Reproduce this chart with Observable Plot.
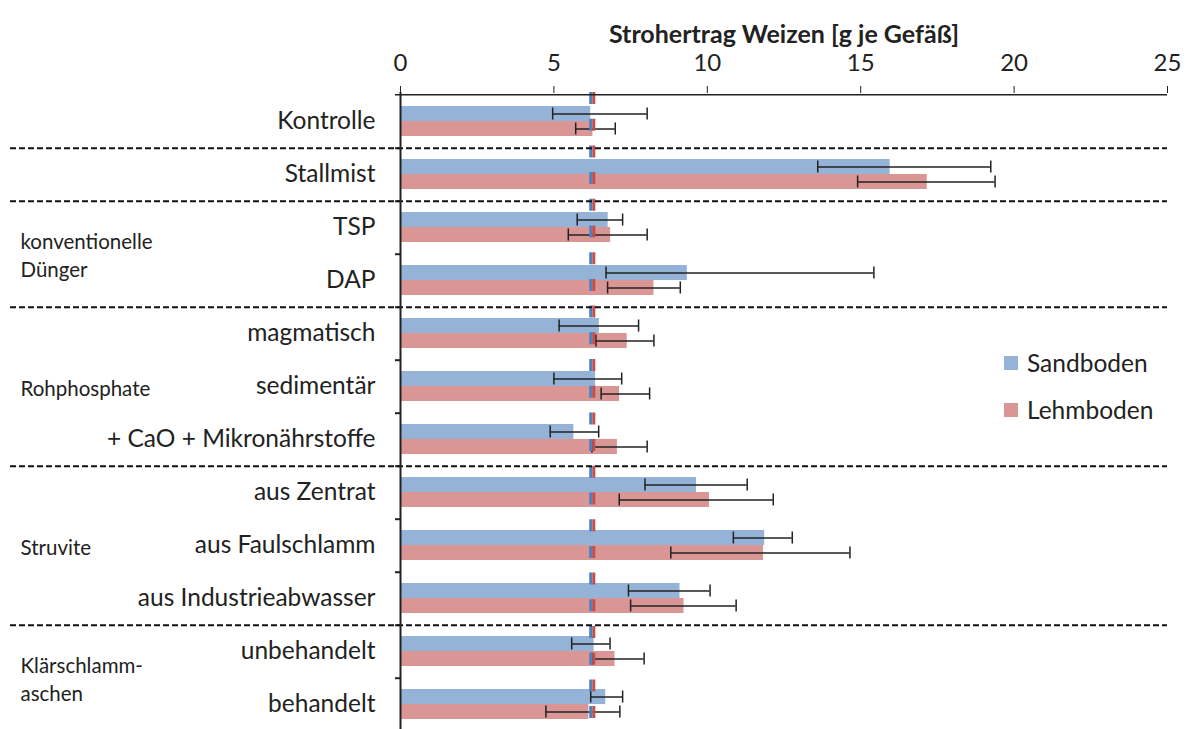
<!DOCTYPE html>
<html>
<head>
<meta charset="utf-8">
<script src="https://cdn.jsdelivr.net/npm/d3@7"></script>
<script src="https://cdn.jsdelivr.net/npm/@observablehq/plot@0.6"></script>
<style>
  html, body { margin: 0; padding: 0; background: #fff; overflow: hidden; }
  #wrap { position: relative; width: 1193px; height: 729px; }
  #legend { position: absolute; left: 1004px; top: 339px; font-family: Lato, "Open Sans", sans-serif; font-size: 24.5px; color: #222; }
  #legend div { display: flex; align-items: center; height: 47px; }
  #legend span.sw { display: inline-block; width: 14px; height: 14px; margin-right: 9px; }
</style>
</head>
<body>
<div id="wrap"></div>
<script>
const categories = ["Kontrolle","Stallmist","TSP","DAP","magmatisch","sedimentär","+ CaO + Mikronährstoffe","aus Zentrat","aus Faulschlamm","aus Industrieabwasser","unbehandelt","behandelt"];
const series = ["Sandboden","Lehmboden"];
const sand   = [6.2, 15.96, 6.77, 9.35, 6.48, 6.36, 5.65, 9.65, 11.87, 9.11, 6.31, 6.69];
const sandLo = [4.96, 13.6, 5.76, 6.70, 5.17, 5.0, 4.88, 7.97, 10.85, 7.43, 5.58, 6.2];
const sandHi = [8.04, 19.24, 7.24, 15.43, 7.76, 7.21, 6.46, 11.3, 12.77, 10.09, 6.83, 7.24];
const lehm   = [6.27, 17.17, 6.85, 8.26, 7.39, 7.14, 7.07, 10.07, 11.83, 9.24, 6.99, 6.14];
const lehmLo = [5.71, 14.9, 5.47, 6.75, 6.37, 6.54, 6.24, 7.13, 8.81, 7.5, 6.24, 4.74];
const lehmHi = [7.0, 19.38, 8.04, 9.12, 8.26, 8.12, 8.04, 12.15, 14.65, 10.94, 7.94, 7.15];
const controlSand = 6.2;
const controlLehm = 6.3;
const xTicks = [0, 5, 10, 15, 20, 25];
const separatorsAfter = ["Kontrolle","Stallmist","DAP","+ CaO + Mikronährstoffe","aus Industrieabwasser"];
const groupLabels = ["konventionelle\nDünger","Rohphosphate","Struvite","Klärschlamm-\naschen"];
const groupMembers = [["TSP","DAP"],["magmatisch","sedimentär","+ CaO + Mikronährstoffe"],["aus Zentrat","aus Faulschlamm","aus Industrieabwasser"],["unbehandelt","behandelt"]];
const xLabel = "Strohertrag Weizen [g je Gefäß]";

const colors = {Sandboden: "#95b3d7", Lehmboden: "#d99694"};
const lineColors = {Sandboden: "#4f81bd", Lehmboden: "#c0504d"};

const W = 1193, H = 740, mT = 92, mB = 7, mL = 400, mR = 26;
const step = (H - mT - mB) / categories.length;
const padIn = 0.44;
const bw = step * (1 - padIn);
const half = bw / 2;
const capInset = 1.5;

const rowsS = categories.map((c, i) => ({cat: c, v: sand[i], lo: sandLo[i], hi: sandHi[i]}));
const rowsL = categories.map((c, i) => ({cat: c, v: lehm[i], lo: lehmLo[i], hi: lehmHi[i]}));

const groups = groupLabels.map((g, i) => {
  const m = groupMembers[i];
  const k = Math.floor((m.length - 1) / 2);
  return {label: g, cat: m[k], even: m.length % 2 === 0};
});

const font = "Lato, 'Open Sans', sans-serif";
const groupText = (data, dy) => Plot.text(data, {y: "cat", text: "label", dy, frameAnchor: "left", dx: -(mL - 20), textAnchor: "start", fontSize: 20.5, lineHeight: 1.37, fill: "#222"});

const chart = Plot.plot({
  width: W, height: H,
  marginTop: mT, marginBottom: mB, marginLeft: mL, marginRight: mR,
  style: {fontFamily: font, fontSize: "24px", color: "#222", background: "white", overflow: "visible"},
  x: {domain: [0, 25], axis: null},
  y: {domain: categories, paddingInner: padIn, paddingOuter: padIn / 2, axis: null},
  marks: [
    Plot.axisX({anchor: "top", ticks: xTicks, tickSize: 7, tickPadding: 15, fontSize: 24, label: null, stroke: "#222"}),
    Plot.axisY({anchor: "left", tickSize: 0, tickPadding: 25, fontSize: 24.5, label: null}),
    Plot.axisY({anchor: "left", tickSize: 5, tickFormat: () => "", label: null, dy: step / 2, strokeWidth: 2}),
    Plot.barX(rowsS, {x: "v", y: "cat", fill: colors.Sandboden, insetBottom: half}),
    Plot.barX(rowsL, {x: "v", y: "cat", fill: colors.Lehmboden, insetTop: half}),
    Plot.ruleY(rowsS, {y: "cat", x1: "lo", x2: "hi", dy: -half / 2, stroke: "#222", strokeWidth: 1.5}),
    Plot.ruleY(rowsL, {y: "cat", x1: "lo", x2: "hi", dy: half / 2, stroke: "#222", strokeWidth: 1.5}),
    Plot.tickX(rowsS, {y: "cat", x: "lo", insetTop: capInset, insetBottom: half + capInset, stroke: "#222", strokeWidth: 1.5}),
    Plot.tickX(rowsS, {y: "cat", x: "hi", insetTop: capInset, insetBottom: half + capInset, stroke: "#222", strokeWidth: 1.5}),
    Plot.tickX(rowsL, {y: "cat", x: "lo", insetTop: half + capInset, insetBottom: capInset, stroke: "#222", strokeWidth: 1.5}),
    Plot.tickX(rowsL, {y: "cat", x: "hi", insetTop: half + capInset, insetBottom: capInset, stroke: "#222", strokeWidth: 1.5}),
    Plot.ruleX([controlSand], {stroke: lineColors.Sandboden, strokeWidth: 3, strokeDasharray: "12,14.7"}),
    Plot.ruleX([controlLehm], {stroke: lineColors.Lehmboden, strokeWidth: 3, strokeDasharray: "12,14.7"}),
    Plot.ruleY(separatorsAfter, {y: d => d, dy: step / 2, insetLeft: -(mL - 10), stroke: "#111", strokeWidth: 2, strokeDasharray: "6,3"}),
    Plot.ruleY([categories[0]], {y: d => d, dy: -step / 2, stroke: "#222", strokeWidth: 1.5, insetLeft: -5}),
    Plot.ruleX([0], {stroke: "#222", strokeWidth: 2}),
    groupText(groups.filter(g => g.even), step / 2),
    groupText(groups.filter(g => !g.even), 0),
    Plot.text([xLabel], {frameAnchor: "top", dy: -67, fontWeight: "bold", fontSize: 25, fill: "#222"})
  ]
});
document.getElementById("wrap").appendChild(chart);

const leg = document.createElement("div");
leg.id = "legend";
leg.innerHTML = series.map(s => `<div><span class="sw" style="background:${colors[s]}"></span>${s}</div>`).join("");
document.getElementById("wrap").appendChild(leg);
</script>
</body>
</html>
